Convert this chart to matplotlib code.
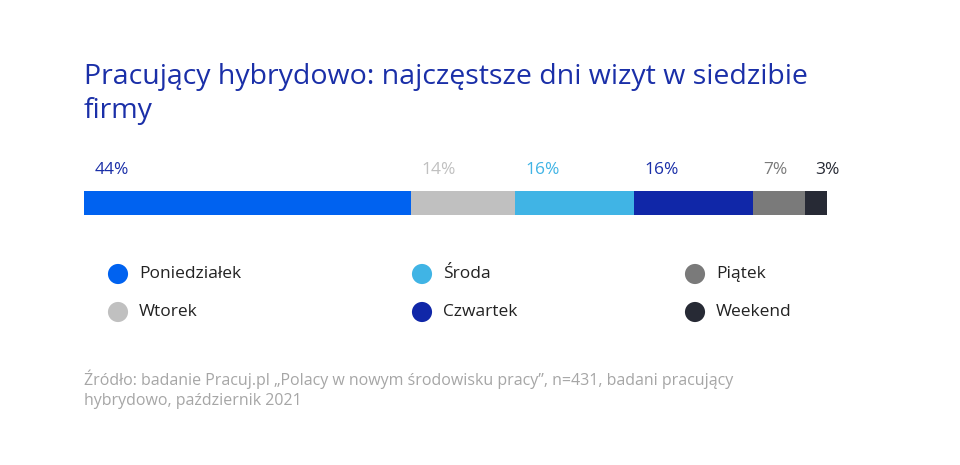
import matplotlib.pyplot as plt

plt.rcParams['font.family'] = ['Open Sans', 'DejaVu Sans']

# data
days = ["Poniedziałek", "Wtorek", "Środa", "Czwartek", "Piątek", "Weekend"]
shares = [44, 14, 16, 16, 7, 3]
colors = ["#0062f0", "#c0c0c0", "#40b4e5", "#1027a8", "#7a7a7a", "#272a35"]
label_colors = ["#1a2fa8", "#c0c0c0", "#40b4e5", "#1a2fa8", "#7a7a7a", "#272a35"]

title = "Pracujący hybrydowo: najczęstsze dni wizyt w siedzibie\nfirmy"
source = ("Źródło: badanie Pracuj.pl „Polacy w nowym środowisku pracy”, n=431, badani pracujący\n"
          "hybrydowo, październik 2021")

W, H = 960, 465
fig = plt.figure(figsize=(W / 100, H / 100), dpi=100)

fig.text(84 / W, 1 - 63 / H, title, color="#1a2fa8", fontsize=20.5,
         va="top", ha="left", linespacing=1.3)

# stacked bar
ax = fig.add_axes([84 / W, 1 - 215 / H, (827 - 84) / W, 24 / H])
left = 0
for val, col, lcol in zip(shares, colors, label_colors):
    ax.barh(0, val, left=left, height=1, color=col, edgecolor="none")
    ax.text(left + 1.4, 1.38, f"{val}%", color=lcol, fontsize=12.5,
            ha="left", va="center")
    left += val
ax.set_xlim(0, sum(shares))
ax.set_ylim(-0.5, 0.5)
ax.axis("off")

# legend, three columns of two rows
lax = fig.add_axes([0, 0, 1, 1])
lax.set_xlim(0, W)
lax.set_ylim(H, 0)
lax.axis("off")
col_x = [118, 422, 695]
row_y = [274, 312]
for i, (day, col) in enumerate(zip(days, colors)):
    x, y = col_x[i // 2], row_y[i % 2]
    lax.scatter(x, y, s=210, color=col, edgecolors="none")
    lax.text(x + 21, y, day, fontsize=12.5, color="#222222",
             ha="left", va="center")

fig.text(84 / W, 1 - 369 / H, source, color="#a6a6a6", fontsize=11.5,
         va="top", ha="left", linespacing=1.4)

fig.savefig("out.png", dpi=100, facecolor="white")
